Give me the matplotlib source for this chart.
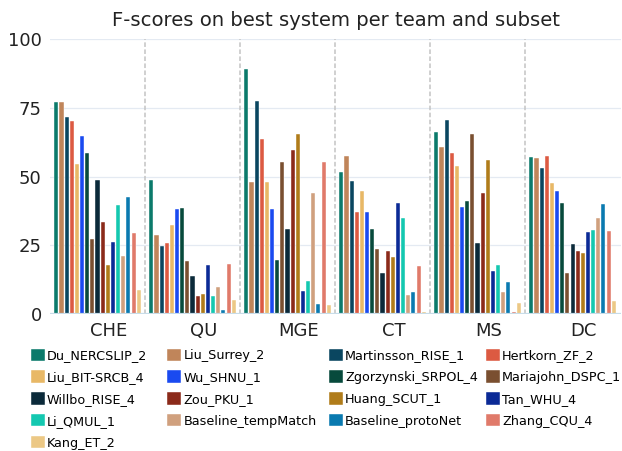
import matplotlib
matplotlib.use("Agg")
import matplotlib.pyplot as plt
import numpy as np

plt.rcParams['font.family'] = ['DejaVu Sans']

subsets = ["CHE", "QU", "MGE", "CT", "MS", "DC"]

teams = ["Du_NERCSLIP_2", "Liu_Surrey_2", "Martinsson_RISE_1", "Hertkorn_ZF_2",
         "Liu_BIT-SRCB_4", "Wu_SHNU_1", "Zgorzynski_SRPOL_4", "Mariajohn_DSPC_1",
         "Willbo_RISE_4", "Zou_PKU_1", "Huang_SCUT_1", "Tan_WHU_4",
         "Li_QMUL_1", "Baseline_tempMatch", "Baseline_protoNet", "Zhang_CQU_4",
         "Kang_ET_2"]

colors = ["#0b7a6b", "#c0855a", "#0a4660", "#dc5a42",
          "#e8b866", "#1a4af0", "#074a3c", "#7a4f30",
          "#0b2a3a", "#8b2a1a", "#b07c1a", "#0b2a96",
          "#14c8b0", "#d0a07e", "#0a7ab0", "#e07a6a",
          "#ecc885"]

# F-scores per team, ordered as subsets
du_nercslip   = [77.0, 48.6, 89.1, 51.5, 66.3, 57.2]
liu_surrey    = [77.0, 28.7, 47.9, 57.3, 60.7, 56.8]
martinsson    = [71.5, 24.7, 77.6, 48.4, 70.7, 53.1]
hertkorn      = [70.3, 25.8, 63.8, 37.0, 58.5, 57.5]
liu_bit       = [54.5, 32.4, 47.9, 44.8, 53.8, 47.6]
wu_shnu       = [64.8, 38.1, 38.1, 37.0, 38.9, 44.7]
zgorzynski    = [58.7, 38.4, 19.6, 30.9, 41.1, 40.4]
mariajohn     = [27.2, 19.4, 55.4, 23.5, 65.5, 14.8]
willbo        = [48.6, 13.7, 30.9, 14.8, 25.8, 25.5]
zou_pku       = [33.3, 6.7, 59.6, 22.9, 44.0, 22.9]
huang_scut    = [17.7, 7.3, 65.6, 20.6, 56.0, 22.1]
tan_whu       = [26.1, 17.8, 8.2, 40.2, 15.6, 29.7]
li_qmul       = [39.5, 6.7, 11.9, 34.9, 17.8, 30.5]
base_temp     = [21.0, 9.7, 44.0, 6.9, 7.9, 34.9]
base_proto    = [42.4, 1.5, 3.6, 7.9, 11.5, 40.1]
zhang_cqu     = [29.5, 18.1, 55.3, 17.5, 0.7, 30.2]
kang_et       = [8.6, 5.1, 3.2, 0.7, 3.9, 4.6]

series = [du_nercslip, liu_surrey, martinsson, hertkorn, liu_bit, wu_shnu,
          zgorzynski, mariajohn, willbo, zou_pku, huang_scut, tan_whu,
          li_qmul, base_temp, base_proto, zhang_cqu, kang_et]

yticks = [0, 25, 50, 75, 100]

W, H = 622, 451
fig = plt.figure(figsize=(W / 100, H / 100), dpi=100)
ax = fig.add_axes([50 / W, 1 - 314 / H, 571 / W, 275 / H])

n = len(series)
step = 0.0542
bw = 0.043
x = np.arange(len(subsets))
handles = []
for j, (vals, name, c) in enumerate(zip(series, teams, colors)):
    b = ax.bar(x + (j - (n - 1) / 2) * step, vals, width=bw, color=c,
               edgecolor='white', linewidth=0.3, label=name, zorder=3)
    handles.append(b)

ax.set_xlim(-0.5, 5.51)
ax.set_ylim(0, 100)
ax.set_yticks(yticks)
ax.yaxis.grid(True, color='#e4eaf2', linewidth=0.9, zorder=0)
ax.axhline(0, color='#c8dce8', linewidth=1.6, zorder=4)
for s in x[:-1]:
    ax.axvline(s + 0.5, color='#c4c4c4', linewidth=1.1, linestyle=(0, (3, 1.6)), zorder=2)

ax.set_xticks(x + 0.115)
ax.set_xticklabels(subsets)
ax.tick_params(axis='both', length=0, labelsize=13, colors='#222222')
ax.tick_params(axis='x', pad=6)
ax.tick_params(axis='y', pad=6)
for sp in ax.spines.values():
    sp.set_visible(False)

ax.set_title("F-scores on best system per team and subset", fontsize=14.1,
             color='#222222', pad=9)

# legend: four columns, filled row by row, placed at fixed pixel columns
ncol = 4
col_left_px = [30.7, 167.3, 329.0, 486.0]
for c in range(ncol):
    idx = list(range(c, n, ncol))
    fig.legend([handles[i] for i in idx], [teams[i] for i in idx],
               loc='upper left', bbox_to_anchor=(col_left_px[c] / W, 1 - 348.5 / H),
               ncol=1, frameon=False, fontsize=9.2, borderpad=0, borderaxespad=0,
               handlelength=1.1, handleheight=1.1, handletextpad=0.15,
               labelspacing=0.66)

fig.savefig("out.png", dpi=100)
